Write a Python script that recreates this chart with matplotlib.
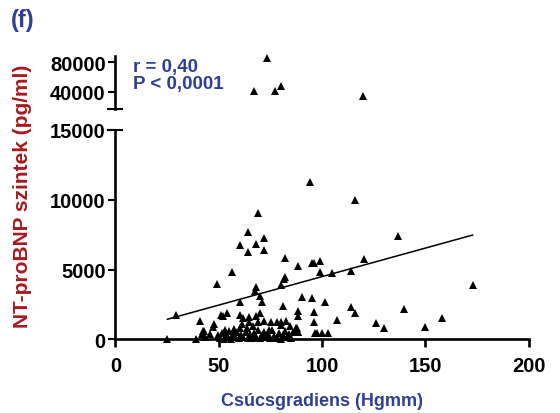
import numpy as np
import matplotlib.pyplot as plt

plt.rcParams['font.family'] = ['Liberation Sans', 'DejaVu Sans']
plt.rcParams['font.weight'] = 'bold'

BLUE = '#2e3f94'
RED = '#a8191c'

# peak gradient (mmHg) vs NT-proBNP (pg/ml), values above the break
high_x = [73.3, 67.2, 77.1, 80.1, 120.0]
high_y = [85500, 41000, 40400, 47300, 34500]

# values below the break
low_x = [94.1, 116.2, 69.2, 64.1, 72.1, 137.0, 60.3, 68.1, 64.1, 72.1,
         82.2, 120.1, 99.2, 95.4, 96.2, 88.2, 114.1, 99.2, 56.3, 105.0,
         82.2, 81.7, 49.2, 80.1, 172.9, 68.1, 67.6, 70.0, 90.1, 95.2,
         101.3, 71.1, 60.1, 81.1, 114.1, 139.9, 88.2, 96.2, 116.2, 54.0,
         70.0, 51.3, 29.2, 60.1, 52.1, 68.1, 88.2, 61.7, 64.6, 157.9,
         107.1, 72.1, 82.8, 41.2, 96.2, 80.1, 75.1, 78.1, 64.8, 69.2,
         126.0, 47.6, 61.2, 80.1, 66.4, 84.5, 47.3, 149.9, 130.2, 87.2,
         60.1, 87.7, 42.8, 87.5, 42.2, 88.6, 88.2, 96.6, 99.8, 103.0,
         97.4, 42.0, 46.0, 25.2, 38.8,
         49.5, 50.5, 51.5, 52.5, 53.5, 54.5, 55.0, 56.0, 57.0, 58.0,
         59.0, 60.0, 61.0, 62.0, 63.0, 64.0, 65.0, 66.0, 67.0, 68.0,
         69.0, 70.0, 71.0, 72.0, 73.0, 74.0, 75.0, 76.0, 77.0, 78.0,
         79.0, 80.0, 81.0, 82.0, 83.0, 84.0, 85.0, 86.0, 57.5, 63.5,
         74.5, 53.0, 43.5]
low_y = [11290, 9980, 9050, 7670, 7280, 7380, 6780, 6850, 6230, 6420,
         5850, 5750, 5610, 5470, 5470, 5250, 4870, 4840, 4800, 4730,
         4440, 4320, 3980, 3910, 3910, 3730, 3480, 3120, 3000, 2960,
         2690, 2650, 2650, 2410, 2340, 2170, 2050, 1930, 1900, 1880,
         1880, 1760, 1740, 1740, 1690, 1690, 1690, 1530, 1580, 1530,
         1360, 1330, 1330, 1290, 1260, 1260, 1220, 1220, 1220, 1220,
         1190, 1100, 1100, 1020, 970, 970, 900, 860, 810, 810,
         790, 790, 620, 620, 570, 500, 550, 480, 480, 450,
         430, 380, 380, 0, 0,
         300, 100, 450, 50, 250, 150, 600, 50, 350, 150,
         500, 80, 300, 200, 550, 100, 350, 60, 450, 200,
         700, 100, 300, 550, 150, 400, 80, 650, 250, 120,
         450, 50, 300, 600, 150, 350, 100, 500, 750, 800,
         700, 700, 150]

# linear regression line
fit_slope = 40.85
fit_intercept = 408
r_text = 'r = 0,40'
p_text = 'P < 0,0001'

fig = plt.figure(figsize=(5.6, 4.14), dpi=100)
ax = fig.add_axes([0.206, 0.178, 0.738, 0.5056])
ax_top = fig.add_axes([0.206, 0.7343, 0.738, 0.128], sharex=ax)

lw = 1.9
for a in (ax, ax_top):
    a.spines['right'].set_visible(False)
    a.spines['top'].set_visible(False)
    a.spines['left'].set_linewidth(lw)
    a.tick_params(axis='y', width=1.5, length=5, labelsize=14.5, pad=2)
ax.spines['bottom'].set_linewidth(lw)
ax_top.spines['bottom'].set_visible(False)
ax_top.tick_params(axis='x', bottom=False, labelbottom=False)
ax.tick_params(axis='x', width=1.9, length=6, labelsize=14.5, pad=6)

ax.plot(low_x, low_y, '^', color='black', ms=6.3, mew=0, clip_on=False)
ax_top.plot(high_x, high_y, '^', color='black', ms=6.3, mew=0, clip_on=False)

all_x = np.array(low_x + high_x)
xs = np.array([all_x.min(), all_x.max()])
ax.plot(xs, fit_intercept + fit_slope * xs, color='black', lw=1.1)

ax.set_xlim(0, 200)
ax.set_ylim(0, 15000)
ax.set_xticks([0, 50, 100, 150, 200])
ax.set_yticks([0, 5000, 10000, 15000])
ax_top.set_ylim(16500, 88600)
ax_top.set_yticks([40000, 80000])
for a in (ax, ax_top):
    for lab in a.get_xticklabels() + a.get_yticklabels():
        lab.set_fontweight('bold')

# caps at the axis break
ax.plot([-3.4, 3.4], [15000, 15000], color='black', lw=1.5, clip_on=False)
ax_top.plot([-3.4, 3.4], [16500, 16500], color='black', lw=1.5, clip_on=False)

ax.set_xlabel('Csúcsgradiens (Hgmm)', color=BLUE, fontsize=13,
              fontweight='bold', labelpad=12)
fig.text(0.04, 0.527, 'NT-proBNP szintek (pg/ml)', color=RED, fontsize=15,
         fontweight='bold', rotation=90, ha='center', va='center')

fig.text(0.02, 0.95, '(f)', color=BLUE, fontsize=17, fontweight='bold',
         va='center')
fig.text(0.237, 0.838, r_text, color=BLUE, fontsize=13.5, fontweight='bold',
         va='center')
fig.text(0.237, 0.795, p_text, color=BLUE, fontsize=13.5, fontweight='bold',
         va='center')

fig.savefig('out.png', dpi=100)
